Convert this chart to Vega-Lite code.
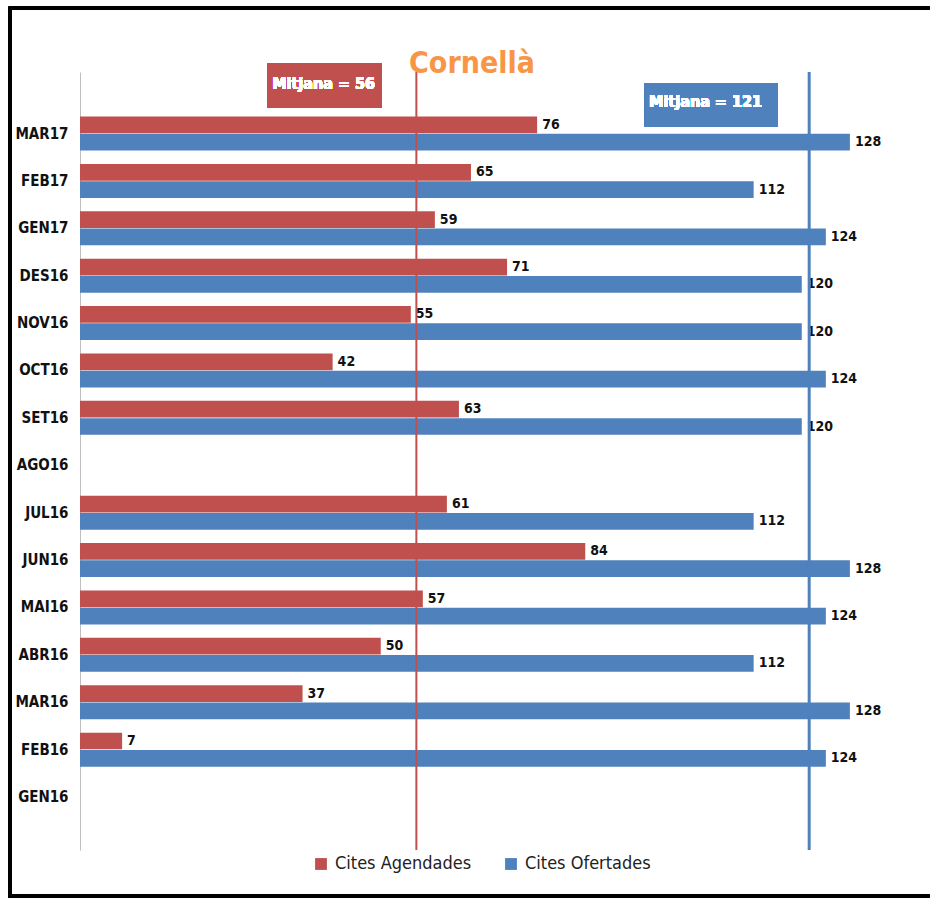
{
  "$schema": "https://vega.github.io/schema/vega-lite/v6.json",
  "width": 812,
  "height": 778,
  "autosize": {"type": "none"},
  "padding": {"left": 80, "top": 72, "right": 38, "bottom": 49},
  "background": "white",
  "config": {
    "view": {"stroke": null},
    "font": "DejaVu Sans Condensed, sans-serif"
  },
  "title": {
    "text": "Cornellà",
    "color": "#F79646",
    "fontSize": 30,
    "fontWeight": "bold",
    "font": "DejaVu Sans Condensed, sans-serif",
    "anchor": "middle",
    "baseline": "alphabetic",
    "dx": -14,
    "offset": -96
  },
  "datasets": {
    "cites": [
      {"mes": "MAR17", "serie": "Cites Agendades", "valor": 76},
      {"mes": "MAR17", "serie": "Cites Ofertades", "valor": 128},
      {"mes": "FEB17", "serie": "Cites Agendades", "valor": 65},
      {"mes": "FEB17", "serie": "Cites Ofertades", "valor": 112},
      {"mes": "GEN17", "serie": "Cites Agendades", "valor": 59},
      {"mes": "GEN17", "serie": "Cites Ofertades", "valor": 124},
      {"mes": "DES16", "serie": "Cites Agendades", "valor": 71},
      {"mes": "DES16", "serie": "Cites Ofertades", "valor": 120},
      {"mes": "NOV16", "serie": "Cites Agendades", "valor": 55},
      {"mes": "NOV16", "serie": "Cites Ofertades", "valor": 120},
      {"mes": "OCT16", "serie": "Cites Agendades", "valor": 42},
      {"mes": "OCT16", "serie": "Cites Ofertades", "valor": 124},
      {"mes": "SET16", "serie": "Cites Agendades", "valor": 63},
      {"mes": "SET16", "serie": "Cites Ofertades", "valor": 120},
      {"mes": "JUL16", "serie": "Cites Agendades", "valor": 61},
      {"mes": "JUL16", "serie": "Cites Ofertades", "valor": 112},
      {"mes": "JUN16", "serie": "Cites Agendades", "valor": 84},
      {"mes": "JUN16", "serie": "Cites Ofertades", "valor": 128},
      {"mes": "MAI16", "serie": "Cites Agendades", "valor": 57},
      {"mes": "MAI16", "serie": "Cites Ofertades", "valor": 124},
      {"mes": "ABR16", "serie": "Cites Agendades", "valor": 50},
      {"mes": "ABR16", "serie": "Cites Ofertades", "valor": 112},
      {"mes": "MAR16", "serie": "Cites Agendades", "valor": 37},
      {"mes": "MAR16", "serie": "Cites Ofertades", "valor": 128},
      {"mes": "FEB16", "serie": "Cites Agendades", "valor": 7},
      {"mes": "FEB16", "serie": "Cites Ofertades", "valor": 124}
    ]
  },
  "data": {"name": "cites"},
  "layer": [
    {
      "layer": [
        {
          "mark": {"type": "bar"},
          "encoding": {
            "y": {
              "field": "mes",
              "type": "nominal",
              "sort": ["MAR17","FEB17","GEN17","DES16","NOV16","OCT16","SET16","AGO16","JUL16","JUN16","MAI16","ABR16","MAR16","FEB16","GEN16"],
              "scale": {
                "domain": ["MAR17","FEB17","GEN17","DES16","NOV16","OCT16","SET16","AGO16","JUL16","JUN16","MAI16","ABR16","MAR16","FEB16","GEN16"],
                "paddingInner": 0.2826,
                "paddingOuter": 0.849,
                "align": 0.553
              },
              "axis": {
                "title": null,
                "domain": true,
                "domainColor": "#BFBFBF",
                "domainWidth": 1,
                "ticks": false,
                "labelFontSize": 15,
                "labelFontWeight": "bold",
                "labelColor": "#111111",
                "labelPadding": 12,
                "labelFont": "DejaVu Sans Condensed, sans-serif"
              }
            },
            "yOffset": {
              "field": "serie",
              "type": "nominal",
              "sort": ["Cites Agendades", "Cites Ofertades"],
              "scale": {"paddingInner": 0.03}
            },
            "x": {
              "field": "valor",
              "type": "quantitative",
              "scale": {"domain": [0, 135], "nice": false, "zero": true},
              "axis": null
            },
            "color": {
              "field": "serie",
              "type": "nominal",
              "scale": {
                "domain": ["Cites Agendades", "Cites Ofertades"],
                "range": ["#C0504D", "#4F81BD"]
              },
              "legend": {
                "orient": "none",
                "direction": "horizontal",
                "legendX": 232,
                "legendY": 783,
                "title": null,
                "symbolType": "square",
                "symbolSize": 140,
                "symbolStrokeWidth": 0,
                "labelFontSize": 18,
                "labelColor": "#222222",
                "labelOffset": 5,
                "columnPadding": 30,
                "labelFont": "DejaVu Sans Condensed, sans-serif"
              }
            }
          }
        },
        {
          "mark": {
            "type": "text",
            "align": "left",
            "baseline": "middle",
            "dx": 5,
            "fontSize": 14,
            "fontWeight": "bold",
            "color": "#111111"
          },
          "encoding": {
            "y": {
              "field": "mes",
              "type": "nominal",
              "sort": ["MAR17","FEB17","GEN17","DES16","NOV16","OCT16","SET16","AGO16","JUL16","JUN16","MAI16","ABR16","MAR16","FEB16","GEN16"]
            },
            "yOffset": {
              "field": "serie",
              "type": "nominal",
              "sort": ["Cites Agendades", "Cites Ofertades"]
            },
            "x": {"field": "valor", "type": "quantitative"},
            "text": {"field": "valor", "type": "quantitative"}
          }
        }
      ]
    },
    {
      "transform": [
        {"filter": "datum.serie == 'Cites Agendades'"},
        {"aggregate": [{"op": "mean", "field": "valor", "as": "mitjana"}]}
      ],
      "mark": {"type": "rule", "color": "#C0504D", "strokeWidth": 2},
      "encoding": {"x": {"field": "mitjana", "type": "quantitative"}}
    },
    {
      "transform": [
        {"filter": "datum.serie == 'Cites Ofertades'"},
        {"aggregate": [{"op": "mean", "field": "valor", "as": "mitjana"}]}
      ],
      "mark": {"type": "rule", "color": "#4F81BD", "strokeWidth": 3},
      "encoding": {"x": {"field": "mitjana", "type": "quantitative"}}
    },
    {
      "layer": [
        {
          "mark": {"type": "rect", "fill": null, "filled": false, "stroke": "black", "strokeWidth": 3},
          "encoding": {
            "x": {"datum": -11.6, "type": "quantitative"},
            "x2": {"datum": 145},
            "y": {"datum": 108.2, "type": "quantitative", "scale": {"domain": [0, 100], "nice": false, "zero": false}, "axis": null},
            "y2": {"datum": -5.9}
          }
        },
        {
          "mark": {"type": "rect", "color": "#C0504D"},
          "encoding": {
            "x": {"datum": 31.1, "type": "quantitative"},
            "x2": {"datum": 50.2},
            "y": {"datum": 101.16, "type": "quantitative"},
            "y2": {"datum": 95.37}
          }
        },
        {
          "mark": {"type": "text", "color": "white", "fontSize": 16, "fontWeight": "bold", "align": "center", "baseline": "middle", "text": "Mitjana = 56"},
          "encoding": {
            "x": {"datum": 40.5, "type": "quantitative"},
            "y": {"datum": 98.5, "type": "quantitative"}
          }
        },
        {
          "mark": {"type": "rect", "color": "#4F81BD"},
          "encoding": {
            "x": {"datum": 93.9, "type": "quantitative"},
            "x2": {"datum": 116.0},
            "y": {"datum": 98.59, "type": "quantitative"},
            "y2": {"datum": 92.93}
          }
        },
        {
          "mark": {"type": "text", "color": "white", "fontSize": 16, "fontWeight": "bold", "align": "center", "baseline": "middle", "text": "Mitjana = 121"},
          "encoding": {
            "x": {"datum": 104.0, "type": "quantitative"},
            "y": {"datum": 96.1, "type": "quantitative"}
          }
        }
      ]
    }
  ],
  "resolve": {"scale": {"y": "independent"}}
}
